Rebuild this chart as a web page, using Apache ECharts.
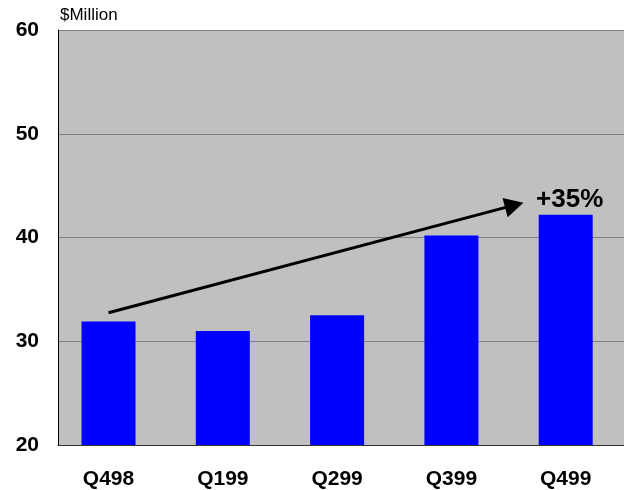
<!DOCTYPE html>
<html>
<head>
<meta charset="utf-8">
<style>
  html, body { margin: 0; padding: 0; background: #fff; }
  #chart { width: 624px; height: 490px; }
</style>
<script src="https://cdn.jsdelivr.net/npm/echarts@6/dist/echarts.min.js"></script>
</head>
<body>
<div id="chart"></div>
<script>
// Quarterly revenue, $ million
const quarters = ['Q498', 'Q199', 'Q299', 'Q399', 'Q499'];
const revenue = [31.9, 31.0, 32.5, 40.2, 42.2];
const yTicks = [20, 30, 40, 50, 60];

// Trend arrow from Q498 rising towards Q499, and its growth note
const trendStart = [0, 32.75];
const trendEnd = [3.55, 43.12];
const growthNote = '+35%';

const FONT = "'Liberation Sans', Arial, Helvetica, sans-serif";

const chart = echarts.init(document.getElementById('chart'), null, { renderer: 'canvas' });

const barData = revenue.map((v, i) => {
  const item = { value: [i, v] };
  if (i === revenue.length - 1) {
    item.label = {
      show: true,
      position: 'top',
      distance: 2,
      offset: [4, 0],
      formatter: growthNote,
      color: '#000',
      fontFamily: FONT,
      fontWeight: 'bold',
      fontSize: 26
    };
  }
  return item;
});

chart.setOption({
  animation: false,
  backgroundColor: '#ffffff',
  grid: {
    left: 58, right: 0, top: 30, bottom: 44,
    show: true,
    backgroundColor: '#c0c0c0',
    borderWidth: 0
  },
  xAxis: {
    type: 'value',
    min: -0.442,
    max: 4.51,
    axisLine: { show: true, onZero: false, lineStyle: { color: '#333', width: 1 } },
    axisTick: { show: false },
    splitLine: { show: false },
    axisLabel: {
      customValues: quarters.map((q, i) => i),
      formatter: v => quarters[Math.round(v)] || '',
      margin: 24,
      color: '#000',
      fontFamily: FONT,
      fontWeight: 'bold',
      fontSize: 21
    }
  },
  yAxis: {
    type: 'value',
    min: yTicks[0],
    max: yTicks[yTicks.length - 1],
    interval: 10,
    name: '$Million',
    nameLocation: 'end',
    nameGap: 6,
    nameTextStyle: {
      align: 'left',
      padding: [0, 0, 0, 2],
      color: '#000',
      fontFamily: FONT,
      fontSize: 17
    },
    axisLine: { show: true, onZero: false, lineStyle: { color: '#000', width: 1 } },
    axisTick: { show: false },
    splitLine: { show: true, lineStyle: { color: '#808080', width: 1 } },
    axisLabel: {
      margin: 19,
      color: '#000',
      fontFamily: FONT,
      fontWeight: 'bold',
      fontSize: 21
    }
  },
  series: [{
    type: 'bar',
    data: barData,
    barWidth: 54,
    itemStyle: { color: '#0000ff' },
    markLine: {
      silent: true,
      animation: false,
      label: { show: false },
      lineStyle: { color: '#000', width: 3, type: 'solid' },
      data: [[
        { coord: trendStart, symbol: 'none' },
        { coord: trendEnd, symbol: 'triangle', symbolSize: [20, 19] }
      ]]
    }
  }]
});
</script>
</body>
</html>
